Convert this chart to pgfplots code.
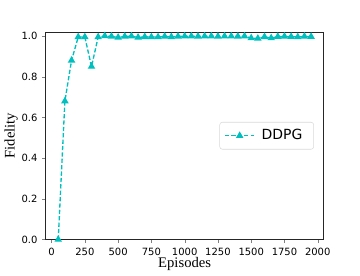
\documentclass[border=0pt]{standalone}
\usepackage{fontspec}
\setmainfont{Liberation Serif}
\newfontfamily\dejavu{DejaVu Sans}
\usepackage{pgfplots}
\pgfplotsset{compat=1.18}
\definecolor{mplc}{rgb}{0.0,0.75,0.75}
\begin{document}
\begin{tikzpicture}[x=1pt,y=1pt]
\path (0,0) rectangle (270,202.5);
\begin{axis}[
  at={(33.75pt,22.5pt)}, anchor=south west,
  scale only axis, width=209pt, height=156pt,
  xmin=-45, xmax=2045, ymin=0, ymax=1.02,
  xtick={0,250,500,750,1000,1250,1500,1750,2000},
  ytick={0,0.2,0.4,0.6,0.8,1.0},
  xticklabel style={/pgf/number format/1000 sep={}},
  yticklabel style={/pgf/number format/fixed,/pgf/number format/fixed zerofill,/pgf/number format/precision=1},
  /pgf/number format/assume math mode=true,
  scaled x ticks=false,
  ticklabel style={font=\dejavu\fontsize{7.5}{9}\selectfont},
  tick align=outside, tick pos=left,
  major tick length=2.6pt,
  axis line style={line width=0.6pt, black!85},
  xlabel={Episodes}, ylabel={Fidelity},
  label style={font=\fontsize{11}{12}\selectfont},
  xlabel style={yshift=5pt},
  ylabel style={yshift=-4pt},
  legend style={at={(0.965,0.5)}, anchor=east, font=\dejavu\fontsize{10.5}{12}\selectfont, draw=black!15, rounded corners=2pt, inner sep=3.5pt,
    nodes={inner xsep=5pt}},
  legend cell align=left,
  legend image code/.code={
    \draw[mark repeat=2,mark phase=2] plot coordinates {(0pt,0pt)(11pt,0pt)(22pt,0pt)};
  },
]
\addplot[mplc, dash pattern=on 3.2pt off 1.6pt, line width=1pt, mark=triangle*, mark size=2.3pt, mark options={solid}] coordinates {
(50,0.0)(100,0.68)(150,0.88)(200,0.995)(250,0.995)(300,0.85)(350,0.995)(400,1.0)(450,0.998)(500,0.993)(550,0.998)(600,0.999)(650,0.993)(700,0.996)(750,0.995)(800,0.995)(850,0.998)(900,0.996)(950,0.998)(1000,0.999)(1050,0.999)(1100,0.998)(1150,0.999)(1200,0.999)(1250,0.998)(1300,0.999)(1350,0.999)(1400,0.998)(1450,0.999)(1500,0.99)(1550,0.988)(1600,0.996)(1650,0.99)(1700,0.997)(1750,0.998)(1800,0.997)(1850,0.995)(1900,0.998)(1950,0.997)
};
\addlegendentry{DDPG}
\end{axis}
\end{tikzpicture}
\end{document}
